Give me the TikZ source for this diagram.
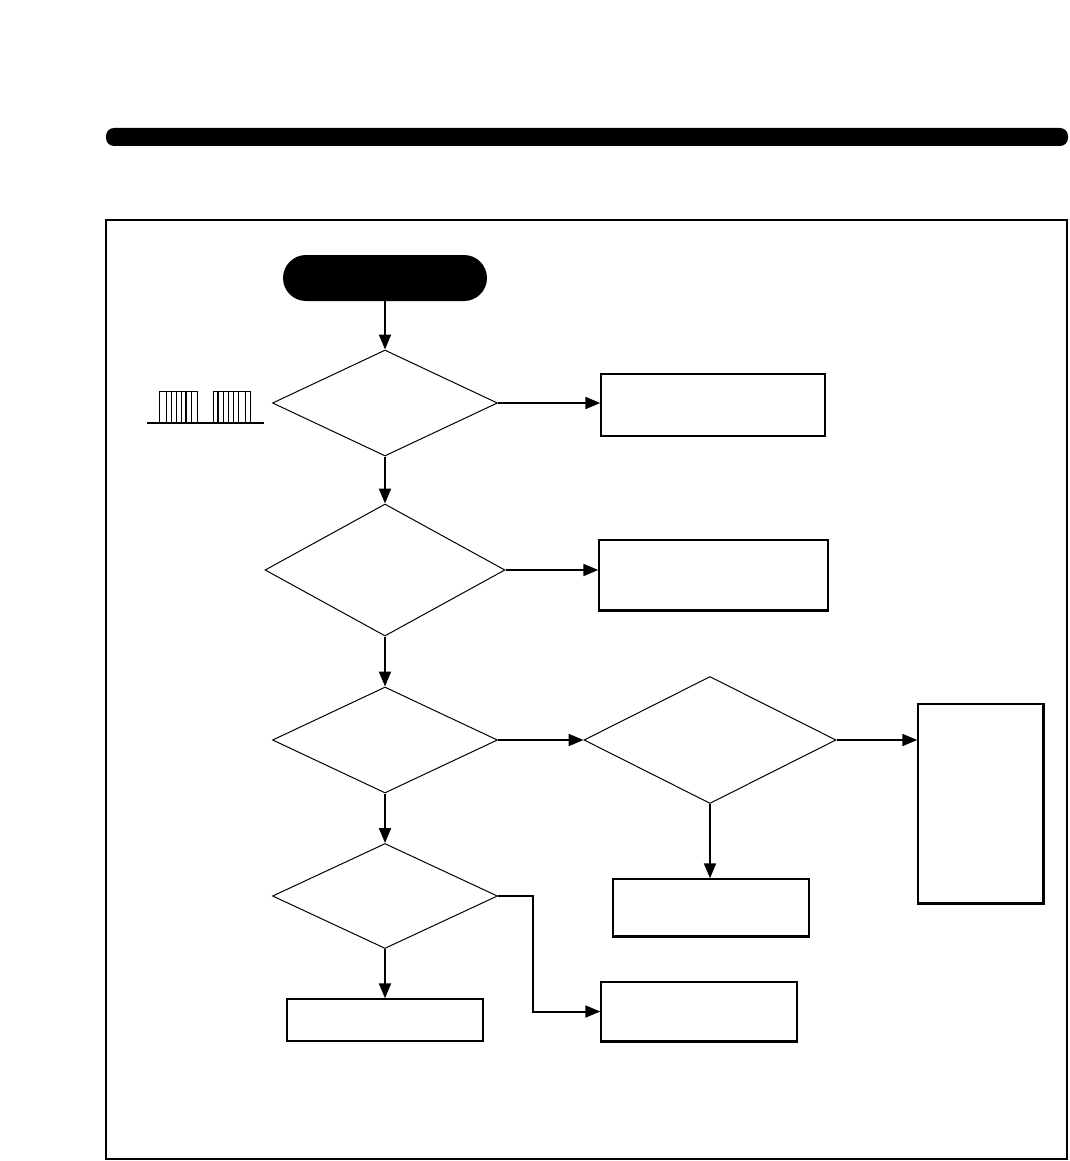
\documentclass[tikz,border=0pt]{standalone}
\usetikzlibrary{shapes.geometric,arrows.meta}
\begin{document}
\begin{tikzpicture}[x=1pt,y=-1pt,
  dec/.style={diamond,draw,line width=1pt,inner sep=0pt,minimum width=#1},
  pbox/.style={rectangle,draw,line width=1.4pt,inner sep=0pt},
  conn/.style={line width=2pt,-{Triangle[length=15pt,width=12pt]}},
  term/.style={rectangle,fill=black,rounded corners=23pt,minimum width=204pt,minimum height=46pt,inner sep=0pt}]
\useasboundingbox (0,0) rectangle (1069,1161);
% top bar
\fill[rounded corners=8pt] (106,128) rectangle (1068,146);
% frame
\draw[line width=1.3pt] (106,220) rectangle (1067,1159);
% start
\node[term] (start) at (385,278) {};
% decisions
\node[dec=225pt,minimum height=106pt] (d1) at (385,403) {};
\node[dec=240pt,minimum height=132pt] (d2) at (385,570) {};
\node[dec=225pt,minimum height=106pt] (d3) at (385,740) {};
\node[dec=252pt,minimum height=127pt] (d4) at (710,740) {};
\node[dec=225pt,minimum height=105pt] (d5) at (385,896) {};
% boxes
\node[pbox,minimum width=224pt,minimum height=62pt] (b1) at (713,405) {};
\node[pbox,minimum width=229pt,minimum height=70pt] (b2) at (713.5,575) {};
\node[pbox,minimum width=125pt,minimum height=199pt] (b3) at (980.5,803.5) {};
\node[pbox,minimum width=196pt,minimum height=57pt] (b4) at (711,907.5) {};
\node[pbox,minimum width=196pt,minimum height=42pt] (b5) at (385,1020) {};
\node[pbox,minimum width=196pt,minimum height=59pt] (b6) at (699,1011.5) {};
\foreach \b in {b2,b4,b6}{\draw[line width=2.6pt] (\b.south west) -- (\b.south east);}
\draw[line width=2.2pt] (b3.north east) -- (b3.south east) -- (b3.south west);
% connectors
\draw[conn] (start.south) -- (d1.north);
\draw[conn] (d1.east) -- (b1.west |- d1.east);
\draw[conn] (d1.south) -- (d2.north);
\draw[conn] (d2.east) -- (b2.west |- d2.east);
\draw[conn] (d2.south) -- (d3.north);
\draw[conn] (d3.east) -- (d4.west);
\draw[conn] (d4.east) -- (b3.west |- d4.east);
\draw[conn] (d4.south) -- (d4.south |- b4.north);
\draw[conn] (d3.south) -- (d5.north);
\draw[conn] (d5.south) -- (b5.north);
\draw[conn] (d5.east) -- (533,896) |- (b6.west);
% waveform
\draw[line width=1.2pt] (147,423) -- (264,423);
\draw[line width=1pt] (159,423) -- (159,391) -- (197,391) -- (197,423);
\draw[line width=1pt] (213,423) -- (213,391) -- (250,391) -- (250,423);
\foreach \x in {166,171,176,181,191}{\draw[line width=1pt] (\x,391) -- (\x,423);}
\draw[line width=2pt] (186,391) -- (186,423);
\foreach \x in {223,228,233,238,245}{\draw[line width=1pt] (\x,391) -- (\x,423);}
\draw[line width=2pt] (218,391) -- (218,423);
\end{tikzpicture}
\end{document}
